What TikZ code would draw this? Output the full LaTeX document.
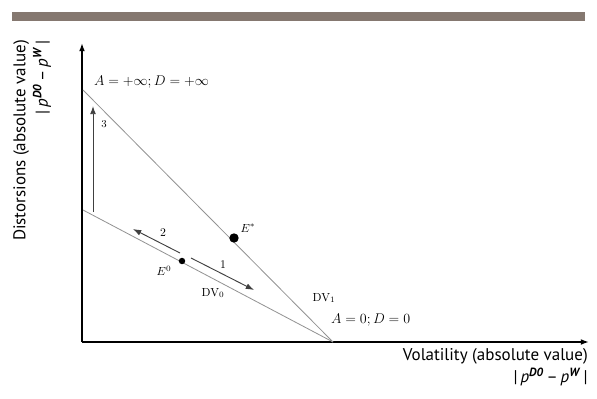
\documentclass[tikz,border=0pt]{standalone}
\usepackage{fontspec}
\newfontfamily\axisfont{PT Sans}
\usetikzlibrary{arrows.meta}
\definecolor{barbrown}{RGB}{133,120,112}
\newcommand{\pdiff}{|\,\textit{p}\textsuperscript{\textbf{\textit{D0}}}\,–\,\textit{p}\textsuperscript{\textbf{\textit{W}}}\,|}
\begin{document}
\begin{tikzpicture}[x=0.03cm,y=-0.03cm,>={Latex[length=7pt,width=5pt]}]
  \useasboundingbox (0,0) rectangle (597,399);
  \fill[barbrown] (12,12) rectangle (585,21);

  \coordinate (o) at (82,342);
  \coordinate (ytop) at (82,43);
  \coordinate (xend) at (589,342);
  \coordinate (ainf) at (83,90);
  \coordinate (dlow) at (83,210);
  \coordinate (azero) at (333,342);

  % axes
  \draw[black,line width=1.3pt,->] (o) -- (ytop);
  \draw[black,line width=1.3pt,->] (o) -- (xend);

  % distortion-volatility lines
  \draw[gray!85,line width=0.7pt] (ainf) -- (azero);
  \draw[gray!85,line width=0.7pt] (dlow) -- (azero);

  \node[circle,fill=black,inner sep=0pt,minimum size=8pt] (estar) at (234,238) {};
  \node[circle,fill=black,inner sep=0pt,minimum size=5.5pt] (ezero) at (182,261) {};

  \coordinate (s1) at (191,258);
  \coordinate (t1) at (254,290);
  \coordinate (s2) at (180,253);
  \coordinate (t2) at (133,229);
  \coordinate (s3) at (93,212);
  \coordinate (t3) at (93,106);

  \draw[black!75,line width=0.8pt,->] (s1) -- (t1);
  \draw[black!75,line width=0.8pt,->] (s2) -- (t2);
  \draw[black!75,line width=0.8pt,->] (s3) -- (t3);

  \node at (223,265) {\(1\)};
  \node at (163,233) {\(2\)};
  \node at (104,124) {\small\(3\)};
  \node at (248,228) {\(E^{*}\)};
  \node at (164,271) {\(E^{0}\)};
  \node at (213,293) {\(\mathrm{DV}_0\)};
  \node at (324,298) {\(\mathrm{DV}_1\)};
  \node[anchor=west,font=\large] at (90,82) {\(A=+\infty;D=+\infty\)};
  \node[anchor=west,font=\large] at (327,320) {\(A=0;D=0\)};

  % axis titles
  \node[anchor=north east,align=right,inner sep=0pt,font=\axisfont\fontsize{14.5}{19}\selectfont]
    (xlab) at (588,348) {Volatility (absolute value)\\\pdiff};
  \node[anchor=north east,align=right,rotate=90,inner sep=0pt,font=\axisfont\fontsize{14.5}{19}\selectfont]
    (ylab) at (13,40) {Distorsions (absolute value)\\\pdiff};
\end{tikzpicture}
\end{document}
